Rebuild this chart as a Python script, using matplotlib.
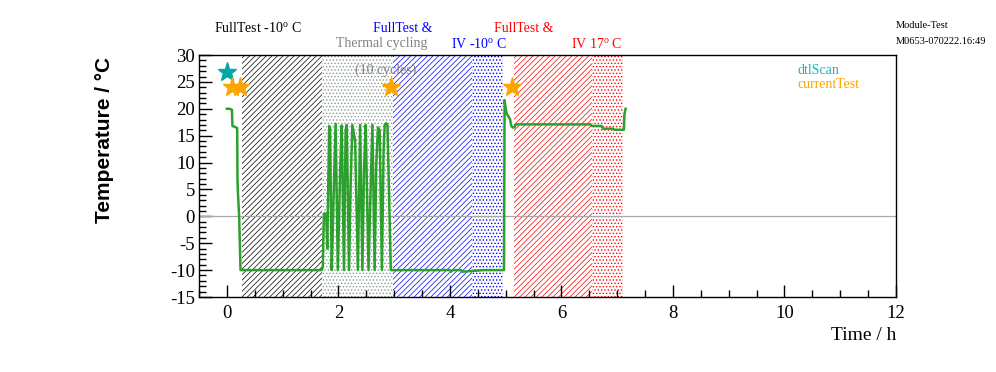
import matplotlib
matplotlib.use("Agg")
import matplotlib.pyplot as plt
from matplotlib.ticker import MultipleLocator

# temperature trace (hours, deg C)
time_h = [0.00, 0.05, 0.09, 0.10, 0.15, 0.185, 0.19, 0.20, 0.22, 0.245,
          1.70, 1.72, 1.74, 1.78, 1.80, 1.835, 1.85, 1.88, 1.91, 1.95,
          1.99, 2.03, 2.06, 2.10, 2.13, 2.15, 2.19, 2.22, 2.25, 2.30,
          2.35, 2.39, 2.43, 2.46, 2.49, 2.54, 2.58, 2.61, 2.65, 2.68,
          2.71, 2.74, 2.78, 2.81, 2.83, 2.86, 2.88, 2.94, 2.96, 3.50,
          4.00, 4.02, 4.05, 4.20, 4.22, 4.60, 4.90, 4.97, 4.98, 5.00,
          5.02, 5.05, 5.08, 5.10, 5.13, 5.16, 5.18, 5.50, 6.00, 6.52,
          6.55, 6.72, 6.75, 6.92, 6.95, 7.12, 7.13, 7.15]
temp_c = [20.0, 20.0, 19.8, 16.8, 16.6, 16.4, 7.0, 4.0, 0.0, -10.0,
          -10.0, -9.5, 0.5, 0.5, -6.0, 16.8, 16.5, -10.0, 2.0, 17.2,
          -10.0, 8.0, 16.9, -10.0, 16.0, 17.0, -10.0, 6.0, 17.0, 14.0,
          -10.0, 17.0, -10.0, 9.0, 17.0, -10.0, 6.0, 17.0, -10.0, 10.0,
          16.5, 16.0, -10.0, 12.0, 17.0, 17.3, 17.0, -10.0, -10.0, -10.0,
          -10.0, -10.3, -10.0, -10.0, -10.3, -10.0, -10.0, -10.0, 21.6, 20.0,
          19.0, 18.6, 18.0, 16.8, 16.5, 16.6, 17.1, 17.1, 17.1, 17.1,
          16.8, 16.8, 16.3, 16.3, 16.1, 16.1, 19.0, 20.0]

# test markers
dtl_t = [0.0]
dtl_v = [26.8]
cur_t = [0.09, 0.23, 2.94, 5.11]
cur_v = [24.0, 24.0, 24.0, 24.0]

# shaded test phases: (start, end, colour, pattern)
phases = [
    (0.27, 1.70, "black", "/" * 6),
    (1.70, 2.98, "#8a9a92", "." * 5),
    (2.98, 4.39, "blue", "/" * 6),
    (4.39, 4.95, "blue", "." * 5),
    (5.15, 6.55, "red", "/" * 6),
    (6.55, 7.10, "red", "." * 5),
]

serif = "Liberation Serif"
plt.rcParams["axes.unicode_minus"] = False
plt.rcParams["mathtext.fontset"] = "custom"
plt.rcParams["mathtext.rm"] = serif
plt.rcParams["mathtext.it"] = serif

W, H = 996, 372
fig = plt.figure(figsize=(W / 100, H / 100), dpi=100)
ax = fig.add_axes([199 / W, 1 - 297 / H, 697 / W, 242 / H])

for x0, x1, col, pat in phases:
    plt.rcParams["hatch.linewidth"] = 0.5 if "/" in pat else 0.6
    ax.axvspan(x0, x1, facecolor="none", edgecolor=col, hatch=pat, lw=0, zorder=1)

ax.axhline(0, color="#a8a8a8", lw=0.9, zorder=2)
ax.plot(time_h, temp_c, color="#2ca02c", lw=1.8, zorder=3)
ax.plot(dtl_t, dtl_v, ls="none", marker="*", ms=14, color="#00a8a8", zorder=4)
ax.plot(cur_t, cur_v, ls="none", marker="*", ms=14, color="#ffa500", zorder=4)

ax.set_xlim(-0.5, 12)
ax.set_ylim(-15, 30)
ax.xaxis.set_major_locator(MultipleLocator(2))
ax.xaxis.set_minor_locator(MultipleLocator(0.5))
ax.yaxis.set_major_locator(MultipleLocator(5))
ax.yaxis.set_minor_locator(MultipleLocator(1))
ax.tick_params(which="both", direction="in", top=False, right=False, width=1)
ax.tick_params(which="major", length=9)
ax.tick_params(which="minor", length=5)
ax.tick_params(axis="y", pad=3)
ax.tick_params(axis="x", pad=6)
for lab in ax.get_xticklabels() + ax.get_yticklabels():
    lab.set_fontfamily(serif)
    lab.set_fontsize(13.5)
for s in ax.spines.values():
    s.set_linewidth(1)


def ftext(x, y, s, **kw):
    fig.text(x / W, 1 - y / H, s, family=serif, va="center", **kw)


ftext(214, 28, "FullTest -10$^{\\mathrm{o}}$ C", color="black", fontsize=10)
ftext(373, 28, "FullTest &", color="blue", fontsize=10)
ftext(336, 44, "Thermal cycling", color="#808080", fontsize=10)
ftext(451, 44, "IV -10$^{\\mathrm{o}}$ C", color="blue", fontsize=10)
ftext(494, 28, "FullTest &", color="red", fontsize=10)
ftext(571, 44, "IV 17$^{\\mathrm{o}}$ C", color="red", fontsize=10)
ftext(355, 70, "(10 cycles)", color="#808080", fontsize=10)
ftext(896, 25, "Module-Test", color="black", fontsize=7.5)
ftext(896, 41, "M0653-070222.16:49", color="black", fontsize=7.5)
ftext(797, 70, "dtlScan", color="#1fb0b0", fontsize=10)
ftext(797, 85, "currentTest", color="#ffa500", fontsize=10)
ftext(896, 335, "Time / h", color="black", fontsize=14, ha="right")

fig.text(104 / W, 1 - 57 / H, "Temperature / °C", family="Liberation Sans",
         fontweight="bold", fontsize=15, rotation=90, ha="center", va="top")

fig.savefig("out.png", dpi=100)
